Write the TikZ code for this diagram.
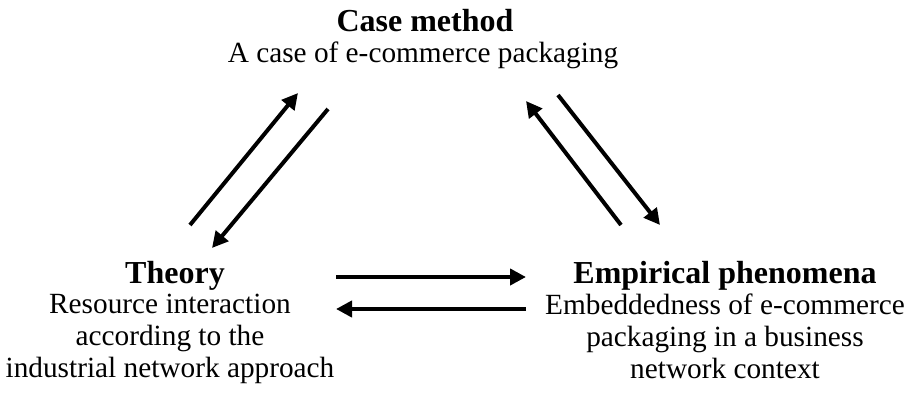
\documentclass[tikz,border=0pt]{standalone}
\usepackage{fontspec}
\setmainfont{Liberation Serif}
\usetikzlibrary{arrows.meta,positioning}

\tikzset{
  flow/.style={line width=4pt,-{Triangle[length=16pt,width=16pt]}},
  headline/.style={font=\fontsize{32}{32}\selectfont\bfseries,inner sep=0pt},
  bodytext/.style={font=\fontsize{29.3}{31.7}\selectfont,align=center,inner sep=0pt}
}

\begin{document}
\begin{tikzpicture}[x=1pt,y=-1pt]
\useasboundingbox (0,0) rectangle (909,396);
% text blocks
\node[headline,anchor=base] (case) at (425,32) {Case method};
\node[bodytext,anchor=base] (casetext) at (423,63) {A case of e-commerce packaging};
\node[headline,anchor=base] (theory) at (175,283) {Theory};
\node[bodytext,anchor=north] (theorytext) at (170,294) {Resource interaction\\according to the\\industrial network approach};
\node[headline,anchor=base] (empirical) at (725,283) {Empirical phenomena};
\node[bodytext,anchor=north] (empiricaltext) at (725,294) {Embeddedness of e-commerce\\packaging in a business\\network context};
% arrow ends
\coordinate (tc1) at (190,225);
\coordinate (tc2) at (298,93);
\coordinate (ct1) at (328,109);
\coordinate (ct2) at (212,248);
\coordinate (ec1) at (621,225);
\coordinate (ec2) at (526,101);
\coordinate (ce1) at (558,95);
\coordinate (ce2) at (660,225);
\coordinate (te1) at (336,277);
\coordinate (te2) at (526,277);
\coordinate (et1) at (526,309);
\coordinate (et2) at (336,309);
% arrows
\draw[flow] (tc1) -- (tc2);
\draw[flow] (ct1) -- (ct2);
\draw[flow] (ec1) -- (ec2);
\draw[flow] (ce1) -- (ce2);
\draw[flow] (te1) -- (te2);
\draw[flow] (et1) -- (et2);
\end{tikzpicture}
\end{document}
